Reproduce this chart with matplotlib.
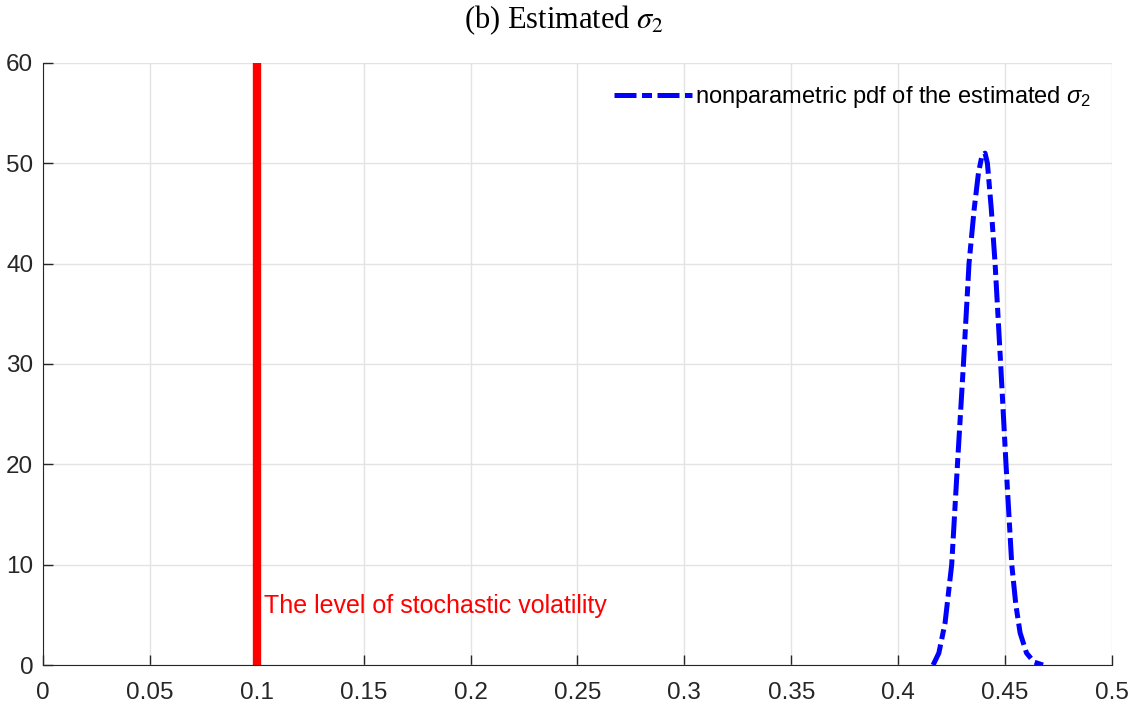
import numpy as np
import matplotlib
matplotlib.use("Agg")
import matplotlib.pyplot as plt

# values
sigma_x = [0.4163, 0.4190, 0.4219, 0.4250, 0.4277, 0.4305, 0.4331, 0.4355, 0.4375,
           0.4392, 0.4406, 0.4417, 0.4435, 0.4453, 0.4479, 0.4504, 0.4531, 0.4550,
           0.4570, 0.4600, 0.4635, 0.4677]
pdf_y = [0.0, 1.2, 4.2, 10.0, 20.0, 30.0, 40.0, 45.4, 49.0,
         50.8, 51.0, 50.0, 45.5, 40.0, 30.0, 20.0, 10.0, 6.0,
         3.2, 1.2, 0.3, 0.0]
true_level = 0.1

xticks = np.arange(0, 0.51, 0.05)
xlabels = ['0', '0.05', '0.1', '0.15', '0.2', '0.25', '0.3', '0.35', '0.4', '0.45', '0.5']
yticks = [0, 10, 20, 30, 40, 50, 60]

plt.rcParams['font.family'] = ['Liberation Sans', 'DejaVu Sans']
plt.rcParams['mathtext.fontset'] = 'custom'
plt.rcParams['mathtext.rm'] = 'Liberation Sans'
plt.rcParams['mathtext.it'] = 'Liberation Sans:italic'

fig = plt.figure(figsize=(11.29, 7.06), dpi=100)
ax = fig.add_axes([0.038, 0.058, 0.947, 0.853])

ax.plot([true_level, true_level], [0, 60], color='#ff0000', lw=6, solid_capstyle='butt')
ax.text(true_level + 0.0035, 5.9, 'The level of stochastic volatility', color='#ff0000',
        fontsize=18, va='center', ha='left')
ax.plot(sigma_x, pdf_y, color='#0000ff', lw=3.6, ls=(0, (4.4, 1.1, 2.0, 1.1)),
        dash_capstyle='butt',
        label=r'nonparametric pdf of the estimated $\sigma_2$')

ax.set_xlim(0, 0.5)
ax.set_ylim(0, 60)
ax.set_xticks(xticks)
ax.set_xticklabels(xlabels)
ax.set_yticks(yticks)
ax.tick_params(direction='in', length=7, width=1, colors='#262626', labelsize=17.5)
ax.tick_params(axis='x', pad=12)
ax.tick_params(axis='y', pad=7)
ax.grid(True, color='#e3e3e3', lw=1)
ax.set_axisbelow(True)
for s in ['top', 'right']:
    ax.spines[s].set_visible(False)
for s in ['left', 'bottom']:
    ax.spines[s].set_color('#262626')

leg = ax.legend(loc='upper right', frameon=False, fontsize=17, handlelength=3.3,
                handletextpad=0.12, bbox_to_anchor=(1.0, 1.0))
for t in leg.get_texts():
    t.set_color('#000000')

fig.text(0.5, 0.972, r'(b) Estimated $\sigma_2$', ha='center', va='center',
         fontsize=22, family=['Liberation Serif', 'DejaVu Serif'], math_fontfamily='stix')

fig.savefig('out.png', dpi=100)
